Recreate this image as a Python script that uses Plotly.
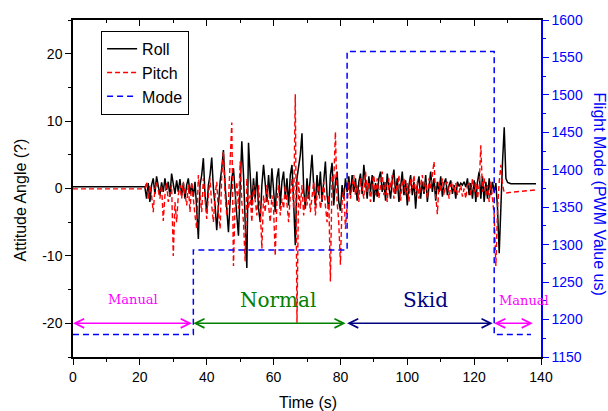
import plotly.graph_objects as go

# ---------------- data ----------------
sample_start = 22.0
sample_step = 0.5

roll_pre_t = [0.0, 21.5]
roll_pre = [0.25, 0.25]
roll_dense = [
    -1.5, 0.8, -2.0, 0.5, 1.5, -0.8, 1.8, 0.2, -1.0, 0.9,
    -0.5, 1.5, -0.2, 1.0, -1.2, 2.2, 0.3, -0.8, 1.2, -0.5,
    1.4, -1.0, 0.8, -1.5, 0.5, 1.5, -0.8, 0.6, -1.2,
    1.0, -3.0, -7.5, 0.5, 2.0, 4.5, -1.0, -3.5, 0.5, 2.0,
    4.6, 0.0, -2.5, -6.2, -2.0, 1.0, 3.0, 5.7, 0.5, -3.0,
    -6.5, -2.0, 1.5, 3.0, -1.0, -4.0, -7.0, 1.0, 7.0, 2.0,
    -5.0, -11.8, 6.8, 2.0, -2.5, 1.5, -1.5, 2.5, -3.0, -5.0,
    0.5, 3.5, 1.0, -2.0, 2.0, -1.5, 3.0, 0.0, -3.5, 1.5,
    3.0, -2.5, 1.0, 2.5, -1.5, 1.5, -2.5, 2.0, 3.5, -2.0,
    -8.4, 1.5, 3.0, 5.0, 8.2, 0.0, -3.0, 1.5, -1.5, 2.0,
    5.0, 0.5, -2.5, 2.0, -1.0, 2.5, -2.0, 1.0, 4.0, -1.0,
    -3.0, 2.0, 3.8, -2.5, 1.0, 2.5, -2.0, -3.3, 0.5, -1.5,
    1.5, -0.5,
    1.8, -1.0, 2.0, -0.5, 1.5, -1.8, 1.0, 2.2, -0.8, 3.5,
    0.5, -1.5, 1.8, -0.5, 2.0, -2.0, 0.8, -1.2, 1.5, 2.5,
    -0.5, 1.0, -1.8, 2.2, 0.2, -1.5, 1.2, 2.8, -0.8, 1.5,
    -2.0, 0.8, 2.5, -1.0, 1.2, -2.5, 0.5, 2.0, -1.0, 1.0,
    -3.0, 0.5, 1.8, -1.5, 1.0, -0.8, 2.0, -2.0, 0.8, 2.5,
    -0.5, 1.5, -1.8, 1.0, -0.5, 1.8, -1.2, 0.8, 1.5, -1.0,
    0.5, 1.2, -0.8, 0.5, -1.5, 1.0, 0.3, 0.8, 0.5, 1.0,
    0.2, 1.5, -1.0, 0.8, -1.5, 1.2, -2.0, 1.0, 2.5, -1.5,
    1.8, -2.0, 1.0, -1.5, 1.5, -1.0, 1.0,
    -0.5, 0.8, -3.0, -9.6, -2.0, 4.0, 9.1, 1.5, 0.9,
]
roll_tail_t = [130.5, 131.0, 138.5]
roll_tail = [0.75, 0.7, 0.7]

pitch_pre_t = [0.0, 21.5]
pitch_pre = [-0.05, -0.05]
pitch_dense = [
    1.0, -1.5, 0.5, -1.0, -3.5, 0.0, 1.0, -0.5, -1.5, 0.5,
    -4.8, -1.0, 0.8, -2.0, -0.5, 0.5, -10.0, -2.0, -5.0, -1.0,
    0.5, -1.5, 1.0, -0.5, -2.5, 0.5, -3.5, 1.0, -2.0,
    -4.0, -6.0, 2.0, -1.0, -3.5, 1.5, -2.0, -4.5, -1.0, 1.5,
    -2.5, -5.0, -1.0, 1.0, -3.5, -6.0, 2.0, 5.5, -1.0, -4.0,
    -2.0, 3.0, 9.8, -11.5, -2.0, 1.0, -3.0, 4.0, -2.0, -5.0,
    -10.8, 1.5, -3.0, -1.0, -5.0, 0.5, -2.0, -4.0, 0.5, -3.0,
    -8.9, -1.0, -3.5, 0.5, -2.5, -5.0, -1.0, -3.0, -10.0, -2.0,
    0.5, -4.0, -1.5, -3.0, 0.5, -2.5, -5.0, -1.0, 1.5, -3.0,
    14.0, -19.9, 1.0, -3.0, 0.5, -4.0, -1.0, -2.5, 0.5, -3.5,
    -1.0, 1.0, -4.0, -1.0, 0.5, -3.0, -1.5, 1.0, -2.5, -5.0,
    -1.0, -13.8, 2.0, 1.0, 8.4, -2.0, -5.0, -11.3, -2.0, 0.0,
    -6.0, -3.0,
    1.0, -1.5, 0.5, 2.0, -1.0, 0.5, -2.0, 1.5, 0.0, -1.5,
    2.5, -0.5, 1.0, -2.0, 0.8, 2.0, -1.0, 1.5, -1.5, 0.5,
    2.5, -1.0, 1.0, -2.0, 1.5, 0.0, 2.0, -1.5, 1.0, -0.5,
    2.0, -1.8, 0.5, 1.5, -1.0, 0.8, -2.0, 1.5, 0.0, 2.0,
    -1.0, 1.0, -1.5, 0.5, 2.0, -0.5, 1.0, -1.5, 1.5, 0.0,
    1.8, 4.0, -1.0, -3.8, 1.0, -0.5, 1.5, -1.0, 0.5, 1.0,
    -1.5, 0.5, 1.0, -0.5, 0.8, -1.0, -0.5, 0.5, -1.2, 0.0,
    -1.5, 0.5, 1.0, -1.0, 1.5, -0.5, 1.0, -1.5, 0.5, 6.4,
    -0.5, 1.5, -1.0, 0.5, -2.0, 1.0, -1.5,
    -4.0, -11.5, -3.0, 1.0, 3.5, 0.5, -0.6, -0.7, -0.7,
]
pitch_tail_t = [130.5, 138.5]
pitch_tail = [-0.6, -0.2]

mode_t = [0, 36, 36, 82, 82, 126, 126, 137]
mode_val = [1180, 1180, 1293, 1293, 1558, 1558, 1180, 1180]

angle_tick_vals = [-20, -10, 0, 10, 20]
angle_tick_text = ["-20", "-10", "0", "10", "20"]

phase_names = ["Manual", "Normal", "Skid", "Manual"]
phase_start = [0, 36, 82, 126]
phase_end = [36, 82, 126, 138]
phase_label_x = [17.9, 61.4, 105.3, 134.8]
phase_label_y = [-16.5, -16.6, -16.5, -16.6]
phase_colors = ["#FF00FF", "#008000", "#000080", "#FF00FF"]
phase_font = [13, 20, 20, 13]
arrow_y = -20

# ---------------- build ----------------
def times(n):
    return [sample_start + sample_step * i for i in range(n)]

roll_t = roll_pre_t + times(len(roll_dense)) + roll_tail_t
roll_v = roll_pre + roll_dense + roll_tail
pitch_t = pitch_pre_t + times(len(pitch_dense)) + pitch_tail_t
pitch_v = pitch_pre + pitch_dense + pitch_tail

fig = go.Figure()
fig.add_trace(go.Scatter(x=roll_t, y=roll_v, mode="lines", name="Roll",
                         line=dict(color="black", width=1.5)))
fig.add_trace(go.Scatter(x=pitch_t, y=pitch_v, mode="lines", name="Pitch",
                         line=dict(color="#FF0000", width=1.4, dash="5px,3px")))
fig.add_trace(go.Scatter(x=mode_t, y=mode_val, mode="lines", name="Mode",
                         yaxis="y2",
                         line=dict(color="#0000FF", width=1.5, dash="6px,4px")))
# helper trace for the top axis
fig.add_trace(go.Scatter(x=[0, 140], y=[None, None], xaxis="x2", mode="lines",
                         showlegend=False, hoverinfo="skip"))

ann = []
for s, e, c in zip(phase_start, phase_end, phase_colors):
    ann.append(dict(x=s, y=arrow_y, ax=e, ay=arrow_y, xref="x", yref="y",
                    axref="x", ayref="y", text="", showarrow=True,
                    arrowside="end+start", arrowhead=5, startarrowhead=5,
                    arrowsize=1.2, startarrowsize=1.2, arrowwidth=1.5,
                    arrowcolor=c))
for name, x, y, c, fs in zip(phase_names, phase_label_x, phase_label_y,
                             phase_colors, phase_font):
    ann.append(dict(x=x, y=y, xref="x", yref="y", text=name, showarrow=False,
                    font=dict(family="DejaVu Serif", size=fs, color=c),
                    xanchor="center", yanchor="middle"))

ann.append(dict(x=0.502, y=-0.134, xref="paper", yref="paper", text="Time (s)",
                showarrow=False, xanchor="center", yanchor="middle",
                font=dict(size=16, color="black")))
ann.append(dict(x=-0.113, y=0.465, xref="paper", yref="paper",
                text="Attitude Angle (?)", textangle=-90, showarrow=False,
                xanchor="center", yanchor="middle",
                font=dict(size=16, color="black")))
ann.append(dict(x=1.124, y=0.485, xref="paper", yref="paper",
                text="Flight Mode (PWM Value us)", textangle=90,
                showarrow=False, xanchor="center", yanchor="middle",
                font=dict(size=16, color="#0000FF")))

fig.update_layout(
    width=608, height=411,
    margin=dict(l=73, r=67, t=13, b=54),
    paper_bgcolor="white", plot_bgcolor="white",
    font=dict(family="Liberation Sans, Arial", size=14, color="black"),
    showlegend=True,
    legend=dict(x=0.06, y=0.968, xanchor="left", yanchor="top",
                bordercolor="black", borderwidth=1, bgcolor="white",
                font=dict(size=16, color="black"), tracegroupgap=0),
    annotations=ann,
    xaxis=dict(range=[0, 140], tick0=0, dtick=20, ticks="outside", ticklen=6,
               tickwidth=1.2, tickcolor="black", showline=True,
               linecolor="black", linewidth=1.5, showgrid=False,
               zeroline=False, tickfont=dict(size=14),
               minor=dict(dtick=10, ticks="outside", ticklen=3,
                          tickcolor="black", showgrid=False)),
    xaxis2=dict(range=[0, 140], overlaying="x", side="top", anchor="y",
                tick0=0, dtick=20, ticks="inside", ticklen=6, tickwidth=1.2,
                tickcolor="black", showline=True, linecolor="black",
                linewidth=1.5, showticklabels=False, showgrid=False,
                zeroline=False,
                minor=dict(dtick=10, ticks="inside", ticklen=3,
                           tickcolor="black", showgrid=False)),
    yaxis=dict(range=[-25, 25], tickmode="array", tickvals=angle_tick_vals,
               ticktext=angle_tick_text, ticks="outside", ticklen=6,
               tickwidth=1.2, tickcolor="black", showline=True,
               linecolor="black", linewidth=1.5, showgrid=False,
               zeroline=False, tickfont=dict(size=14),
               minor=dict(tick0=0, dtick=5, ticks="outside", ticklen=3,
                          tickcolor="black", showgrid=False)),
    yaxis2=dict(range=[1150, 1600], overlaying="y", side="right", anchor="x",
                tick0=1150, dtick=50, ticks="outside", ticklen=6,
                tickwidth=1.2, tickcolor="#0000FF", showline=True,
                linecolor="#0000FF", linewidth=1.5, showgrid=False,
                zeroline=False, tickfont=dict(size=14, color="#0000FF"),
                minor=dict(dtick=25, ticks="outside", ticklen=3,
                           tickcolor="#0000FF", showgrid=False)),
)

fig.write_html("out.html")
